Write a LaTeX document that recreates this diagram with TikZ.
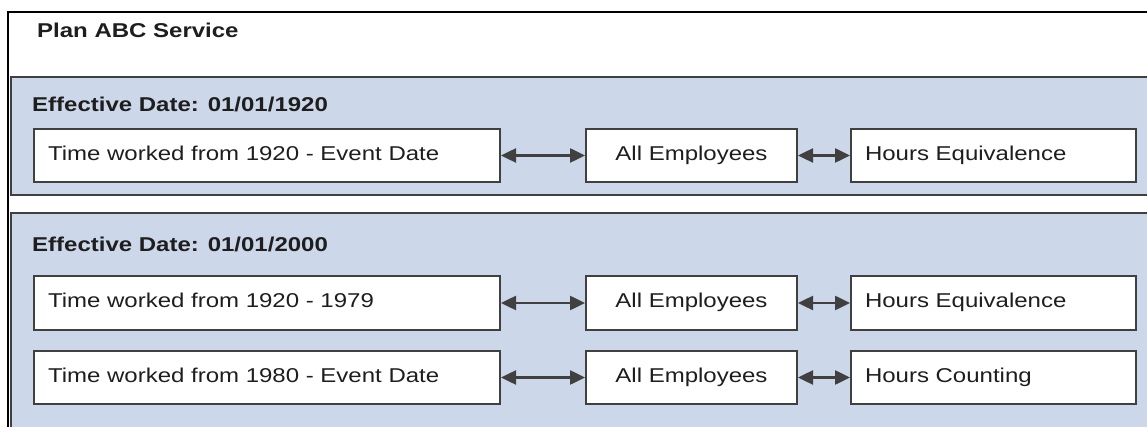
\documentclass[tikz,border=0pt]{standalone}
\usepackage{fontspec}
\setmainfont[FakeStretch=1.2]{Liberation Sans}
\usetikzlibrary{arrows.meta}
\definecolor{bandblue}{RGB}{204,216,234}
\definecolor{edgegray}{RGB}{64,64,64}
\definecolor{inkgray}{RGB}{30,30,30}
\begin{document}
\begin{tikzpicture}[x=1pt, y=-1pt,
  every node/.style={font=\fontsize{20}{24}\selectfont, text=inkgray},
  heading/.style={anchor=base west, inner sep=0pt, font=\fontsize{20}{24}\selectfont\bfseries},
  band/.style={draw=edgegray, line width=2pt, fill=bandblue},
  box/.style={draw=edgegray, line width=2pt, fill=white, anchor=west, minimum height=53pt,
    inner xsep=14pt, inner ysep=0pt, text height=14pt, text depth=4pt, align=left},
  widebox/.style={box, text width=438pt},
  groupbox/.style={box, text width=183pt, align=center},
  rulebox/.style={box, text width=257pt},
  link/.style={edgegray, line width=2.5pt, {Triangle[length=15pt,width=14pt]}-{Triangle[length=15pt,width=14pt]}}]
\clip (0,0) rectangle (1147,427);
\fill[white] (0,0) rectangle (1147,427);
\draw[line width=1.5pt] (8,12) rectangle (1160,440);
\draw[band] (11,77) rectangle (1160,195);
\draw[band] (11,213) rectangle (1160,440);

\node[heading] (plan) at (37,38) {Plan ABC Service};
\node[heading] (date1) at (32,112) {Effective Date: 01/01/1920};
\node[heading] (date2) at (32,252) {Effective Date: 01/01/2000};

% 1920
\node[widebox] (time1) at (33,155.5) {Time worked from 1920 - Event Date};
\node[groupbox] (emp1) at (585,155.5) {All Employees};
\node[rulebox] (rule1) at (850,155.5) {Hours Equivalence};
\draw[link] (time1) -- (emp1);
\draw[link] (emp1) -- (rule1);

% 2000
\node[widebox] (time2) at (33,303) {Time worked from 1920 - 1979};
\node[groupbox] (emp2) at (585,303) {All Employees};
\node[rulebox] (rule2) at (850,303) {Hours Equivalence};
\draw[link] (time2) -- (emp2);
\draw[link] (emp2) -- (rule2);

\node[widebox] (time3) at (33,377.5) {Time worked from 1980 - Event Date};
\node[groupbox] (emp3) at (585,377.5) {All Employees};
\node[rulebox] (rule3) at (850,377.5) {Hours Counting};
\draw[link] (time3) -- (emp3);
\draw[link] (emp3) -- (rule3);
\end{tikzpicture}
\end{document}
